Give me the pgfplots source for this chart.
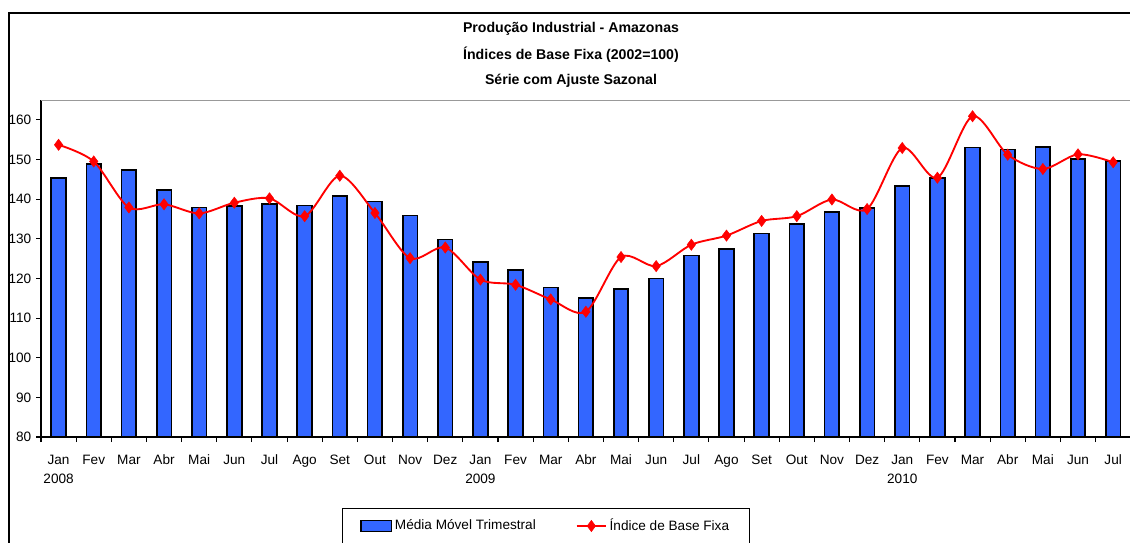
\documentclass[border=0pt]{standalone}
\usepackage{pgfplots}
\pgfplotsset{compat=1.18}
\usepackage{fontspec}
\setmainfont{Liberation Sans}
\definecolor{barblue}{HTML}{3366FF}
\definecolor{linered}{HTML}{FF0000}
\pgfplotsset{
  barlegend/.style={legend image code/.code={\draw[##1,line width=1.1pt] (0pt,-4.1pt) rectangle (23pt,4.1pt);}},
  linelegend/.style={legend image code/.code={\draw[mark repeat=2,mark phase=2,##1] plot coordinates {(0pt,0pt)(11pt,0pt)(22pt,0pt)};}},
}
\begin{document}
\fontsize{10.2pt}{12pt}\selectfont
\begin{tikzpicture}
\useasboundingbox (0,0) rectangle (847.5pt,-406.5pt);
\begin{scope}[x=0.75pt,y=-0.75pt]
\draw[line width=1.2pt] (9,560) -- (9,13) -- (1150,13);
\node[font=\fontsize{10.6pt}{12pt}\selectfont\bfseries] at (571,29) {Produção Industrial - Amazonas};
\node[font=\fontsize{10.6pt}{12pt}\selectfont\bfseries] at (571,55) {Índices de Base Fixa (2002=100)};
\node[font=\fontsize{10.6pt}{12pt}\selectfont\bfseries] at (571,81) {Série com Ajuste Sazonal};
\end{scope}
\begin{axis}[
  at={(30.75pt,-327.75pt)}, anchor=south west,
  scale only axis, width=817.3pt, height=252.75pt,
  xmin=-0.5, xmax=30.5, ymin=80, ymax=165,
  axis lines=left, axis line style={line width=1pt, -},
  tick align=outside,
  major tick length=3.75pt, minor tick length=3.75pt,
  ytick={80,90,...,160},
  /pgf/number format/assume math mode=true,
  yticklabel style={font=\fontsize{10.2pt}{12pt}\selectfont},
  xtick={0,...,30},
  every major x tick/.append style={draw=none},
  minor xtick={-0.5,0.5,...,30.5},
  every tick/.append style={black, line width=0.8pt},
  xticklabels={{Jan\\2008},Fev,Mar,Abr,Mai,Jun,Jul,Ago,Set,Out,Nov,Dez,{Jan\\2009},Fev,Mar,Abr,Mai,Jun,Jul,Ago,Set,Out,Nov,Dez,{Jan\\2010},Fev,Mar,Abr,Mai,Jun,Jul},
  xticklabel style={align=center, font=\fontsize{10.2pt}{14.25pt}\selectfont, yshift=-6pt},
  legend columns=2,
  legend style={at={(0.4634,-0.2107)}, anchor=north, draw=black, line width=0.6pt,
    font=\fontsize{10.2pt}{12pt}\selectfont, inner xsep=13pt, inner ysep=6pt,
    /tikz/every even column/.append style={column sep=28pt}},
  clip=true,
]
\addplot[ybar, bar width=11pt, fill=barblue, draw=black, line width=1.3pt, barlegend]
  coordinates {
(0,145.3)(1,148.8)(2,147.3)(3,142.3)(4,137.9)(5,138.2)(6,138.7)(7,138.4)(8,140.7)(9,139.4)
(10,135.9)(11,129.8)(12,124.2)(13,122.1)(14,117.7)(15,115.0)(16,117.4)(17,120.0)(18,125.8)(19,127.4)
(20,131.3)(21,133.8)(22,136.7)(23,137.7)(24,143.4)(25,145.3)(26,153.0)(27,152.5)(28,153.2)(29,150.1)(30,149.6)
};
\addlegendentry{Média Móvel Trimestral}
\addplot[linered, line width=1.4pt, smooth, mark=diamond*, mark size=4.2pt,
  mark options={fill=linered, draw=linered, line width=0.4pt}, linelegend]
  coordinates {
(0,153.7)(1,149.5)(2,137.9)(3,138.7)(4,136.4)(5,139.1)(6,140.2)(7,135.7)(8,145.9)(9,136.5)
(10,125.1)(11,127.8)(12,119.7)(13,118.4)(14,114.7)(15,111.6)(16,125.4)(17,123.1)(18,128.5)(19,130.8)
(20,134.5)(21,135.7)(22,139.9)(23,137.5)(24,152.9)(25,145.4)(26,160.9)(27,151.2)(28,147.6)(29,151.3)(30,149.3)
};
\addlegendentry{Índice de Base Fixa}
\draw[gray!80, line width=1pt] (rel axis cs:0,1) -- (rel axis cs:1,1);
\end{axis}
\end{tikzpicture}
\end{document}
